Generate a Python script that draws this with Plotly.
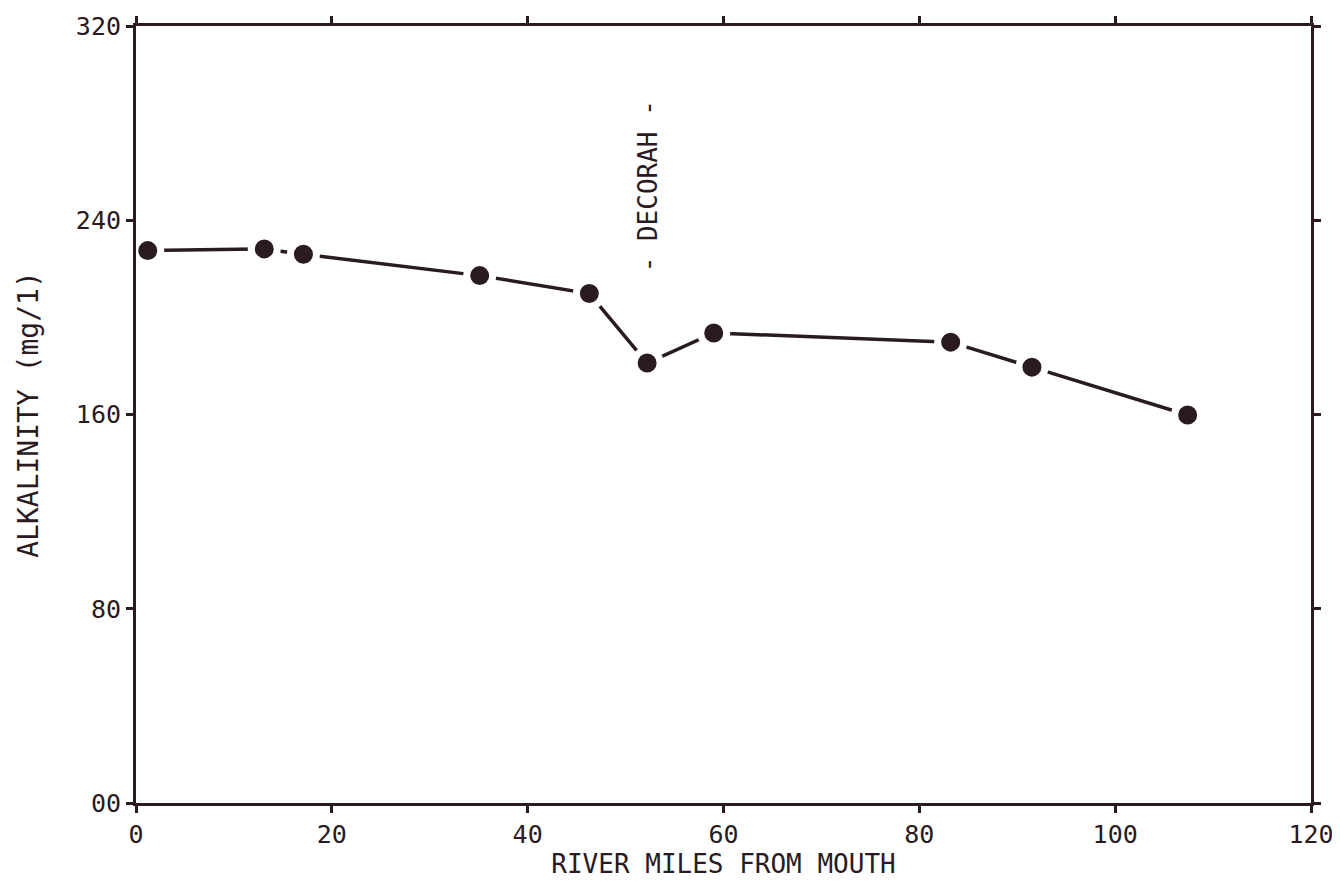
import plotly.graph_objects as go

miles = [1.2, 13.1, 17.1, 35.1, 46.3, 52.2, 59.0, 83.2, 91.5, 107.4]
alkalinity = [227.5, 228.2, 226.0, 217.2, 209.8, 181.2, 193.6, 189.8, 179.5, 159.8]

x_ticks = [0, 20, 40, 60, 80, 100, 120]
x_labels = ["0", "20", "40", "60", "80", "100", "120"]
y_ticks = [0, 80, 160, 240, 320]
y_labels = ["00", "80", "160", "240", "320"]

ink = "#2a1a22"
FONT = "DejaVu Sans Mono"

fig = go.Figure()
fig.add_trace(go.Scatter(
    x=miles, y=alkalinity, mode="lines+markers",
    line=dict(color=ink, width=3.5),
    marker=dict(size=26, color=ink, line=dict(color="white", width=7)),
    showlegend=False, cliponaxis=False,
))

fig.add_annotation(x=52.3, y=254, text="- DECORAH -", textangle=-90,
                   showarrow=False, font=dict(size=26, color=ink, family=FONT))

axis_common = dict(showgrid=False, zeroline=False, showline=True, linecolor=ink,
                   linewidth=3, mirror="ticks", ticks="outside", ticklen=7,
                   tickwidth=3, tickcolor=ink, automargin=False,
                   ticklabeloverflow="allow",
                   tickfont=dict(size=25, color=ink, family=FONT))

fig.update_xaxes(range=[0, 120], tickvals=x_ticks, ticktext=x_labels,
                 title=dict(text="RIVER MILES FROM MOUTH", standoff=5,
                            font=dict(size=26, color=ink, family=FONT)),
                 **axis_common)
fig.update_yaxes(range=[0, 320], tickvals=y_ticks, ticktext=y_labels,
                 title=dict(text="ALKALINITY (mg/1)", standoff=30,
                            font=dict(size=28, color=ink, family=FONT)),
                 **axis_common)

fig.update_layout(width=1332, height=875, paper_bgcolor="white", plot_bgcolor="white",
                  margin=dict(l=128, r=29, t=18, b=80))

fig.write_html("out.html")
